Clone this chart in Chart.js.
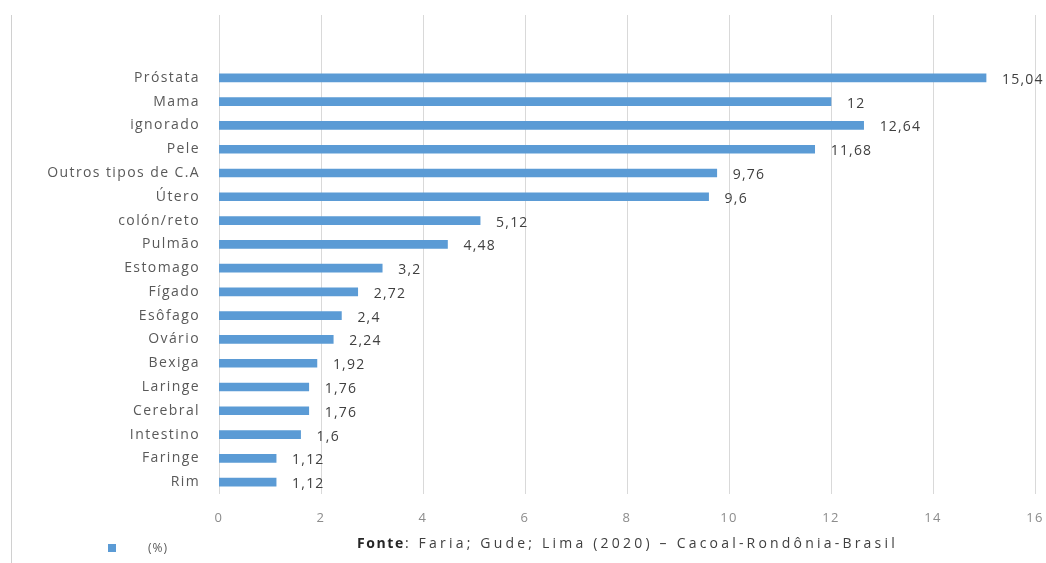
<!DOCTYPE html>
<html>
<head>
<meta charset="utf-8">
<script src="https://cdn.jsdelivr.net/npm/chart.js@4/dist/chart.umd.min.js"></script>
<style>
html,body{margin:0;padding:0;background:#fff;}
#wrap{width:1046px;height:563px;position:relative;}
</style>
</head>
<body>
<div id="wrap"><canvas id="c" width="1046" height="563"></canvas></div>
<script>
const categories = ["Próstata","Mama","ignorado","Pele","Outros tipos de C.A","Útero","colón/reto","Pulmão","Estomago","Fígado","Esôfago","Ovário","Bexiga","Laringe","Cerebral","Intestino","Faringe","Rim"];
const values = [15.04,12,12.64,11.68,9.76,9.6,5.12,4.48,3.2,2.72,2.4,2.24,1.92,1.76,1.76,1.6,1.12,1.12];
const valueLabels = ["15,04","12","12,64","11,68","9,76","9,6","5,12","4,48","3,2","2,72","2,4","2,24","1,92","1,76","1,76","1,6","1,12","1,12"];
const xTicks = [0,2,4,6,8,10,12,14,16];
const seriesName = "(%)";
const sourceBold = "Fonte";
const sourceRest = ": Faria; Gude; Lima (2020) – Cacoal-Rondônia-Brasil";

const FONT = "'Open Sans', 'DejaVu Sans', sans-serif";

const extras = {
  id: 'extras',
  beforeDraw(chart) {
    chart.ctx.letterSpacing = '1.4px';
  },
  beforeDatasetsDraw(chart) {
    const ctx = chart.ctx, xs = chart.scales.x, area = chart.chartArea;
    ctx.save();
    ctx.strokeStyle = '#d9d9d9';
    ctx.lineWidth = 1;
    xTicks.forEach(v => {
      const px = Math.round(xs.getPixelForValue(v)) + 0.5;
      ctx.beginPath(); ctx.moveTo(px, 15); ctx.lineTo(px, area.bottom); ctx.stroke();
    });
    ctx.strokeStyle = '#d0d0d0';
    ctx.beginPath(); ctx.moveTo(11.5, 15); ctx.lineTo(11.5, 563); ctx.stroke();
    ctx.restore();
  },
  afterDatasetsDraw(chart) {
    const ctx = chart.ctx;
    const meta = chart.getDatasetMeta(0);
    ctx.save();
    ctx.font = "14px " + FONT;
    ctx.letterSpacing = '1.2px';
    ctx.fillStyle = '#404040';
    ctx.textBaseline = 'middle';
    ctx.textAlign = 'left';
    meta.data.forEach((bar, i) => {
      ctx.fillText(valueLabels[i], bar.x + 16, bar.y + 2);
    });
    const ds = chart.data.datasets[0];
    ctx.fillStyle = ds.backgroundColor;
    ctx.fillRect(108, 544, 8, 8);
    ctx.fillStyle = '#595959';
    ctx.font = "12px " + FONT;
    ctx.letterSpacing = '1px';
    ctx.fillText(ds.label, 148, 549);
    ctx.fillStyle = '#262626';
    ctx.font = "bold 14px " + FONT;
    ctx.letterSpacing = '1.6px';
    ctx.fillText(sourceBold, 357, 544);
    const w = ctx.measureText(sourceBold).width;
    ctx.font = "14px " + FONT;
    ctx.letterSpacing = '3.2px';
    ctx.fillStyle = '#404040';
    ctx.fillText(sourceRest, 357 + w, 544);
    ctx.restore();
  }
};

new Chart(document.getElementById('c'), {
  type: 'bar',
  data: {
    labels: categories,
    datasets: [{
      label: seriesName,
      data: values,
      backgroundColor: '#5b9bd5',
      barThickness: 8,
      borderWidth: 0
    }]
  },
  options: {
    indexAxis: 'y',
    responsive: false,
    animation: false,
    devicePixelRatio: 1,
    layout: { padding: { left: 0, right: 11, top: 66, bottom: 39 } },
    plugins: { legend: { display: false }, tooltip: { enabled: false } },
    scales: {
      x: {
        type: 'linear',
        min: 0, max: 16,
        afterBuildTicks(s) { s.ticks = xTicks.map(v => ({ value: v })); },
        afterFit(s) { s.height = 30; s.paddingRight = 0; s.paddingLeft = 0; },
        grid: { display: false, drawTicks: false },
        border: { display: false },
        ticks: { color: '#8c8c8c', font: { family: FONT, size: 13 }, padding: 16 }
      },
      y: {
        afterFit(s) { s.width = 219; s.paddingTop = 0; s.paddingBottom = 0; },
        grid: { display: false, drawTicks: false },
        border: { display: false },
        ticks: { color: '#595959', font: { family: FONT, size: 14 }, padding: 19, autoSkip: false }
      }
    }
  },
  plugins: [extras]
});
</script>
</body>
</html>
